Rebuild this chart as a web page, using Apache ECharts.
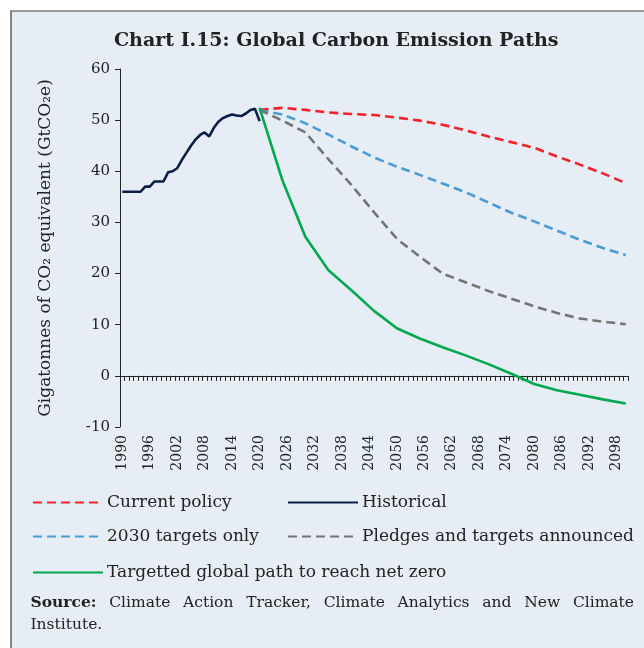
<!DOCTYPE html>
<html><head><meta charset="utf-8">
<script src="https://cdn.jsdelivr.net/npm/echarts@6/dist/echarts.min.js"></script>
<style>html,body{margin:0;padding:0;background:#fff}#c{width:644px;height:648px}</style>
</head><body><div id="c"></div>
<script>
const years = [];
for (let y = 1990; y <= 2100; y++) years.push(String(y));

const histYears = [1990,1991,1992,1993,1994,1995,1996,1997,1998,1999,2000,2001,2002,2003,2004,2005,2006,2007,2008,2009,2010,2011,2012,2013,2014,2015,2016,2017,2018,2019,2020];
const historical = [36,36,36,36,36,37,37,38,38,38,39.8,40,40.6,42.2,43.6,45,46.2,47.1,47.6,46.8,48.5,49.7,50.4,50.8,51.1,50.9,50.8,51.3,52.0,52.2,49.8];

const projYears = [2020,2025,2030,2035,2040,2045,2050,2055,2060,2065,2070,2075,2080,2085,2090,2095,2100];
const currentPolicy = [52.0,52.4,52.0,51.5,51.2,51.0,50.5,49.9,49.1,48.0,46.8,45.7,44.6,42.9,41.3,39.6,37.7];
const targets2030 = [52.0,51.1,49.4,47.2,44.9,42.7,40.9,39.3,37.6,35.9,33.9,31.9,30.2,28.4,26.6,25.0,23.6];
const pledges = [52.0,49.9,47.6,42.4,37.4,32.0,26.8,23.3,20.0,18.3,16.6,15.1,13.6,12.3,11.2,10.6,10.1];
const netZero = [52.4,38.2,27.2,20.7,16.8,12.7,9.3,7.3,5.6,4.0,2.3,0.4,-1.6,-2.8,-3.7,-4.6,-5.4];

const yTicks = [-10,0,10,20,30,40,50,60];

const pairs = (xs, vs) => xs.map((x, i) => [String(x), vs[i]]);

const SERIF = '"DejaVu Serif", serif';
const txt = '#222';

const chart = echarts.init(document.getElementById('c'), null, {renderer: 'canvas'});

// justified source line
const srcLine1 = [['Source:', true],['Climate'],['Action'],['Tracker,'],['Climate'],['Analytics'],['and'],['New'],['Climate']];
const mctx = document.createElement('canvas').getContext('2d');
const fontOf = b => (b ? 'bold ' : '') + '15.5px ' + SERIF;
const widths = srcLine1.map(w => { mctx.font = fontOf(w[1]); return mctx.measureText(w[0]).width; });
const lineL = 30.5, lineR = 634;
const gap = (lineR - lineL - widths.reduce((a,b)=>a+b,0)) / (srcLine1.length - 1);

const graphics = [
  {type:'rect', shape:{x:11,y:11,width:700,height:700}, style:{fill:'#e6edf4', stroke:'#3a3a3a', lineWidth:1.2}, z:-10},
  {type:'text', left:30.5, top:617, style:{text:'Institute.', font:fontOf(false), fill:txt}}
];
let cx = lineL;
srcLine1.forEach((w, i) => {
  graphics.push({type:'text', x:cx, y:595, style:{text:w[0], font:fontOf(w[1]), fill:txt}});
  cx += widths[i] + gap;
});

const option = {
  animation:false,
  backgroundColor:'#ffffff',
  graphic:graphics,
  title:{
    text:'Chart I.15: Global Carbon Emission Paths',
    left:109, top:27,
    textStyle:{fontFamily:SERIF, fontWeight:'bold', fontSize:19, color:'#222'}
  },
  legend:[
    {data:['Current policy'], left:27, top:489},
    {data:['Historical'], left:282, top:489},
    {data:['2030 targets only'], left:27, top:523},
    {data:['Pledges and targets announced'], left:282, top:523},
    {data:['Targetted global path to reach net zero'], left:27, top:559}
  ].map(l => Object.assign(l, {itemWidth:70, itemHeight:14,
      itemStyle:{opacity:0},
      textStyle:{fontFamily:SERIF, fontSize:17, color:txt, padding:[0,0,0,-1]}})),
  grid:{left:120, right:16, top:69, bottom:221, containLabel:false},
  xAxis:[
    {type:'category', data:years, position:'bottom', boundaryGap:true,
     axisLine:{show:false, onZero:false}, axisTick:{show:false},
     axisLabel:{interval:5, rotate:90, margin:8, fontFamily:SERIF, fontSize:14, color:txt}},
    {type:'category', data:years, position:'bottom', boundaryGap:true,
     axisLine:{show:true, onZero:true, lineStyle:{color:'#222', width:1}},
     axisTick:{show:true, interval:0, length:5, lineStyle:{color:'#222', width:1}},
     axisLabel:{show:false}}
  ],
  yAxis:{
    type:'value', min:-10, max:60, interval:10,
    name:'Gigatonnes of CO₂ equivalent (GtCO₂e)', nameLocation:'middle', nameGap:66, nameRotate:90,
    nameTextStyle:{fontFamily:SERIF, fontSize:17, color:txt},
    axisLine:{show:true, lineStyle:{color:'#222', width:1}},
    axisTick:{show:true, length:5, lineStyle:{color:'#222'}},
    splitLine:{show:false},
    axisLabel:{fontFamily:SERIF, fontSize:15, color:txt, margin:10}
  },
  series:[
    {name:'Current policy', type:'line', xAxisIndex:0, data:pairs(projYears,currentPolicy), symbol:'none',
     lineStyle:{color:'#f3212b', width:2.6, type:[9,5]}, itemStyle:{color:'#f3212b'}, z:3},
    {name:'Historical', type:'line', xAxisIndex:0, data:pairs(histYears,historical), symbol:'none',
     lineStyle:{color:'#0c1e48', width:2.6}, itemStyle:{color:'#0c1e48'}, z:5},
    {name:'2030 targets only', type:'line', xAxisIndex:0, data:pairs(projYears,targets2030), symbol:'none',
     lineStyle:{color:'#4b9bd7', width:2.6, type:[9,5]}, itemStyle:{color:'#4b9bd7'}, z:3},
    {name:'Pledges and targets announced', type:'line', xAxisIndex:0, data:pairs(projYears,pledges), symbol:'none',
     lineStyle:{color:'#747474', width:2.6, type:[9,5]}, itemStyle:{color:'#747474'}, z:3},
    {name:'Targetted global path to reach net zero', type:'line', xAxisIndex:0, data:pairs(projYears,netZero), symbol:'none',
     lineStyle:{color:'#00a84f', width:2.6}, itemStyle:{color:'#00a84f'}, z:4}
  ]
};
chart.setOption(option);
</script></body></html>
